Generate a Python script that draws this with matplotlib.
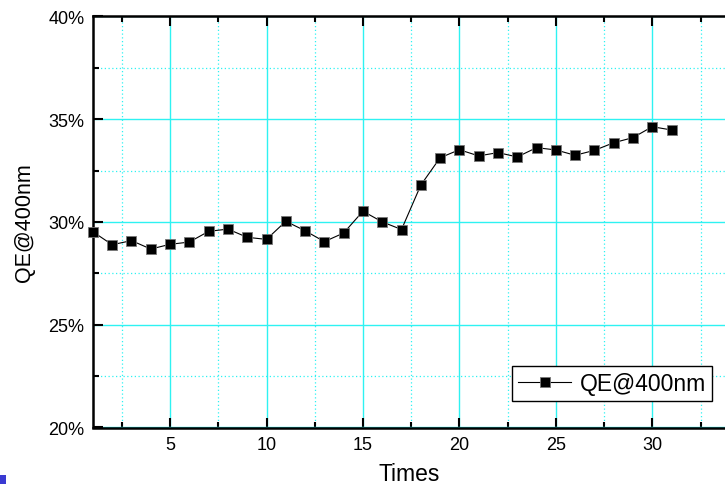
import matplotlib
matplotlib.use("Agg")
import matplotlib.pyplot as plt
from matplotlib.ticker import MultipleLocator, FuncFormatter
from matplotlib.patches import Rectangle

times = list(range(1, 32))
qe = [29.52, 28.89, 29.09, 28.68, 28.91, 29.02, 29.54, 29.65, 29.25, 29.15,
      30.03, 29.57, 29.04, 29.46, 30.52, 30.00, 29.63, 31.79, 33.12, 33.51,
      33.21, 33.37, 33.16, 33.61, 33.50, 33.24, 33.48, 33.85, 34.10, 34.63,
      34.47]
series_label = "QE@400nm"
x_label = "Times"
y_label = "QE@400nm"

plt.rcParams['font.family'] = ['Liberation Sans', 'DejaVu Sans']

fig = plt.figure(figsize=(7.25, 4.85), dpi=100)
ax = fig.add_axes([92.9 / 725, 1 - 428.5 / 485, 1 - 92.9 / 725, (428.5 - 17.3) / 485])

cyan = '#2ef2f2'
ax.set_xlim(1, 33.77)
ax.set_ylim(20, 40)
ax.xaxis.set_major_locator(MultipleLocator(5))
ax.xaxis.set_minor_locator(MultipleLocator(2.5))
ax.yaxis.set_major_locator(MultipleLocator(5))
ax.yaxis.set_minor_locator(MultipleLocator(2.5))
ax.yaxis.set_major_formatter(FuncFormatter(lambda v, p: f"{v:.0f}%"))

ax.grid(which='major', color=cyan, linewidth=1.0, linestyle='-', zorder=0)
ax.grid(which='minor', color=cyan, linewidth=0.9, linestyle=(0, (1, 2)), zorder=0)
ax.set_axisbelow(True)

ax.plot(times, qe, color='black', linewidth=0.8, marker='s', markersize=7.8,
        markerfacecolor='black', markeredgecolor='#777777', markeredgewidth=0.6,
        label=series_label, zorder=3, clip_on=False)

for s in ['left', 'bottom', 'top']:
    ax.spines[s].set_linewidth(1.8)
ax.spines['right'].set_visible(False)

ax.tick_params(which='both', direction='in', top=True, right=False, width=1.5,
               labelsize=13, pad=6)
ax.tick_params(which='major', length=7)
ax.tick_params(which='minor', length=4.5)

ax.set_xlabel(x_label, fontsize=16.5, labelpad=6.5)
ax.set_ylabel(y_label, fontsize=15.5, labelpad=10)

leg = ax.legend(loc='lower right', bbox_to_anchor=(712 / 725, 1 - 401.7 / 485),
                bbox_transform=fig.transFigure, borderaxespad=0, fontsize=16.5,
                fancybox=False, framealpha=1, edgecolor='black', handlelength=2.3,
                handletextpad=0.4, borderpad=0.25)
leg.get_frame().set_linewidth(1.0)

fig.patches.append(Rectangle((0, 0), 6 / 725, 9 / 485, transform=fig.transFigure,
                             facecolor='#3a3ad2', edgecolor='none'))

fig.savefig('out.png', dpi=100)
